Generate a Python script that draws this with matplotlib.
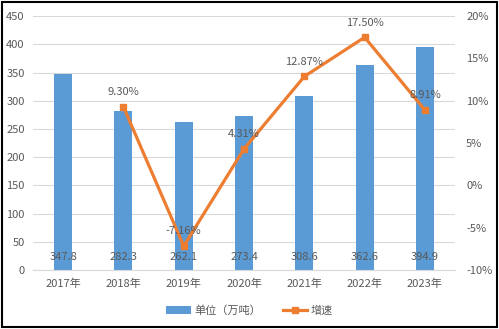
import matplotlib
matplotlib.use('Agg')
import matplotlib.pyplot as plt
from matplotlib.patches import Rectangle

plt.rcParams['font.family'] = ['Noto Sans CJK SC', 'DejaVu Sans']

years = ['2017年', '2018年', '2019年', '2020年', '2021年', '2022年', '2023年']
output = [347.8, 282.3, 262.1, 273.4, 308.6, 362.6, 394.9]
growth = [None, 9.30, -7.16, 4.31, 12.87, 17.50, 8.91]

BLUE = '#5b9bd5'
ORANGE = '#ed7d31'
GREY = '#595959'

fig = plt.figure(figsize=(4.99, 3.29), dpi=100)
ax = fig.add_axes([0.066, 0.179, 0.846, 0.772])
x = list(range(len(years)))

ax.bar(x, output, width=0.3, color=BLUE, zorder=2, label='单位（万吨）')
for xi, v in zip(x, output):
    ax.text(xi, 23, '%.1f' % v, ha='center', va='center', fontsize=8, color=GREY, zorder=5)

ax.set_ylim(0, 450)
ax.set_yticks(range(0, 451, 50))
ax.set_xlim(-0.5, len(years) - 0.5)
ax.set_xticks(x)
ax.set_xticklabels(years)
ax.grid(axis='y', color='#d9d9d9', lw=0.8, zorder=0)
for s in ('top', 'right', 'left'):
    ax.spines[s].set_visible(False)
ax.spines['bottom'].set_color('#d9d9d9')
ax.tick_params(length=0, labelsize=8, colors=GREY, pad=6)

ax2 = ax.twinx()
gx = [xi for xi, g in zip(x, growth) if g is not None]
gy = [g for g in growth if g is not None]
ax2.plot(gx, gy, color=ORANGE, lw=2.3, marker='s', ms=5, zorder=3, label='增速')
for xi, g in zip(gx, gy):
    ax2.annotate('%.2f%%' % g, (xi, g), xytext=(0, 7), textcoords='offset points',
                 ha='center', va='bottom', fontsize=8, color=GREY)
ax2.set_ylim(-10, 20)
ax2.set_yticks(range(-10, 21, 5))
ax2.set_yticklabels(['%d%%' % t for t in range(-10, 21, 5)])
for s in ax2.spines.values():
    s.set_visible(False)
ax2.tick_params(length=0, labelsize=8, colors=GREY, pad=8)

h1, l1 = ax.get_legend_handles_labels()
h2, l2 = ax2.get_legend_handles_labels()
fig.legend(h1 + h2, l1 + l2, loc='center', bbox_to_anchor=(0.5, 0.055), ncol=2,
           frameon=False, fontsize=8, labelcolor=GREY, handlelength=2.2,
           columnspacing=2.0, handletextpad=0.3)

fig.add_artist(Rectangle((0.005, 0.006), 0.99, 0.988, transform=fig.transFigure,
                         fill=False, edgecolor='black', lw=1.5))

plt.savefig('out.png', dpi=100)
